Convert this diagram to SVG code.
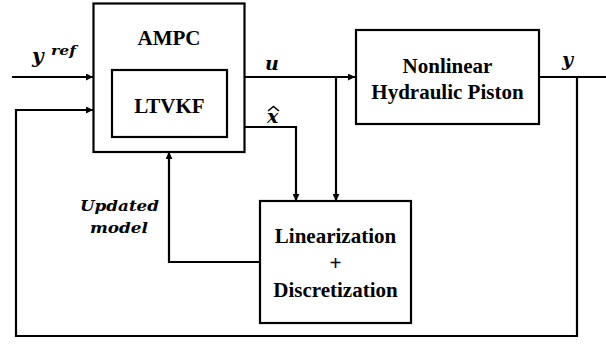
<svg xmlns="http://www.w3.org/2000/svg" width="606" height="344" viewBox="0 0 606 344">
  <defs>
    <marker id="arrow" viewBox="0 0 10 10" refX="10" refY="5" markerWidth="7" markerHeight="7" markerUnits="userSpaceOnUse" orient="auto">
      <path d="M0,0 L10,5 L0,10 z" fill="#000"/>
    </marker>
    <style>
      .box { fill: #fff; stroke: #000; stroke-width: 2.2; }
      .wire { fill: none; stroke: #000; stroke-width: 2.2; }
      .label { font-family: 'Liberation Serif', serif; font-weight: bold; font-size: 21px; fill: #000; }
      .math { font-family: 'DejaVu Serif', serif; font-weight: bold; font-style: italic; fill: #000; }
    </style>
  </defs>

  <!-- connectors -->
  <g id="connectors">
    <!-- reference input -->
    <path class="wire" d="M12,77 H93" marker-end="url(#arrow)"/>
    <!-- control signal to plant -->
    <path class="wire" d="M244,77 H355" marker-end="url(#arrow)"/>
    <!-- plant output -->
    <path class="wire" d="M539,77 H606"/>
    <!-- output feedback loop -->
    <path class="wire" d="M577,77 V336 H16 V110 H93" marker-end="url(#arrow)"/>
    <!-- u branch to linearization -->
    <path class="wire" d="M336,77 V201" marker-end="url(#arrow)"/>
    <!-- state estimate to linearization -->
    <path class="wire" d="M244,127 H296 V201" marker-end="url(#arrow)"/>
    <!-- updated model back to AMPC -->
    <path class="wire" d="M260,262 H169 V152" marker-end="url(#arrow)"/>
  </g>

  <!-- AMPC controller with embedded estimator -->
  <g id="ampc">
    <rect class="box" x="93.5" y="3.5" width="151" height="148.5"/>
    <text class="label" x="169" y="45" text-anchor="middle">AMPC</text>
  </g>
  <g id="ltvkf">
    <rect class="box" x="112" y="70" width="115" height="67"/>
    <text class="label" x="169.5" y="113" text-anchor="middle">LTVKF</text>
  </g>

  <!-- plant -->
  <g id="plant">
    <rect class="box" x="356" y="30" width="183" height="94"/>
    <text class="label" x="447.5" y="73" text-anchor="middle">Nonlinear</text>
    <text class="label" x="447.5" y="99" text-anchor="middle">Hydraulic Piston</text>
  </g>

  <!-- linearization / discretization block -->
  <g id="linearization">
    <rect class="box" x="260" y="201" width="151" height="122"/>
    <text class="label" x="335.5" y="243" text-anchor="middle">Linearization</text>
    <text class="label" x="335.5" y="270" text-anchor="middle">+</text>
    <text class="label" x="335.5" y="297" text-anchor="middle">Discretization</text>
  </g>

  <!-- signal labels -->
  <g id="labels">
    <text class="math" x="32" y="63" font-size="20">y</text>
    <text class="math" x="51" y="55" font-size="13" textLength="25" lengthAdjust="spacingAndGlyphs">ref</text>
    <text class="math" x="265" y="70" font-size="19">u</text>
    <text class="math" x="267" y="123" font-size="19">x</text>
    <path d="M268,111 L273.5,106.5 L279,111" fill="none" stroke="#000" stroke-width="1.6"/>
    <text class="math" x="562" y="66" font-size="19">y</text>
    <text class="math" x="80" y="211" font-size="15" textLength="79" lengthAdjust="spacingAndGlyphs">Updated</text>
    <text class="math" x="90" y="233" font-size="15" textLength="58" lengthAdjust="spacingAndGlyphs">model</text>
  </g>
</svg>
